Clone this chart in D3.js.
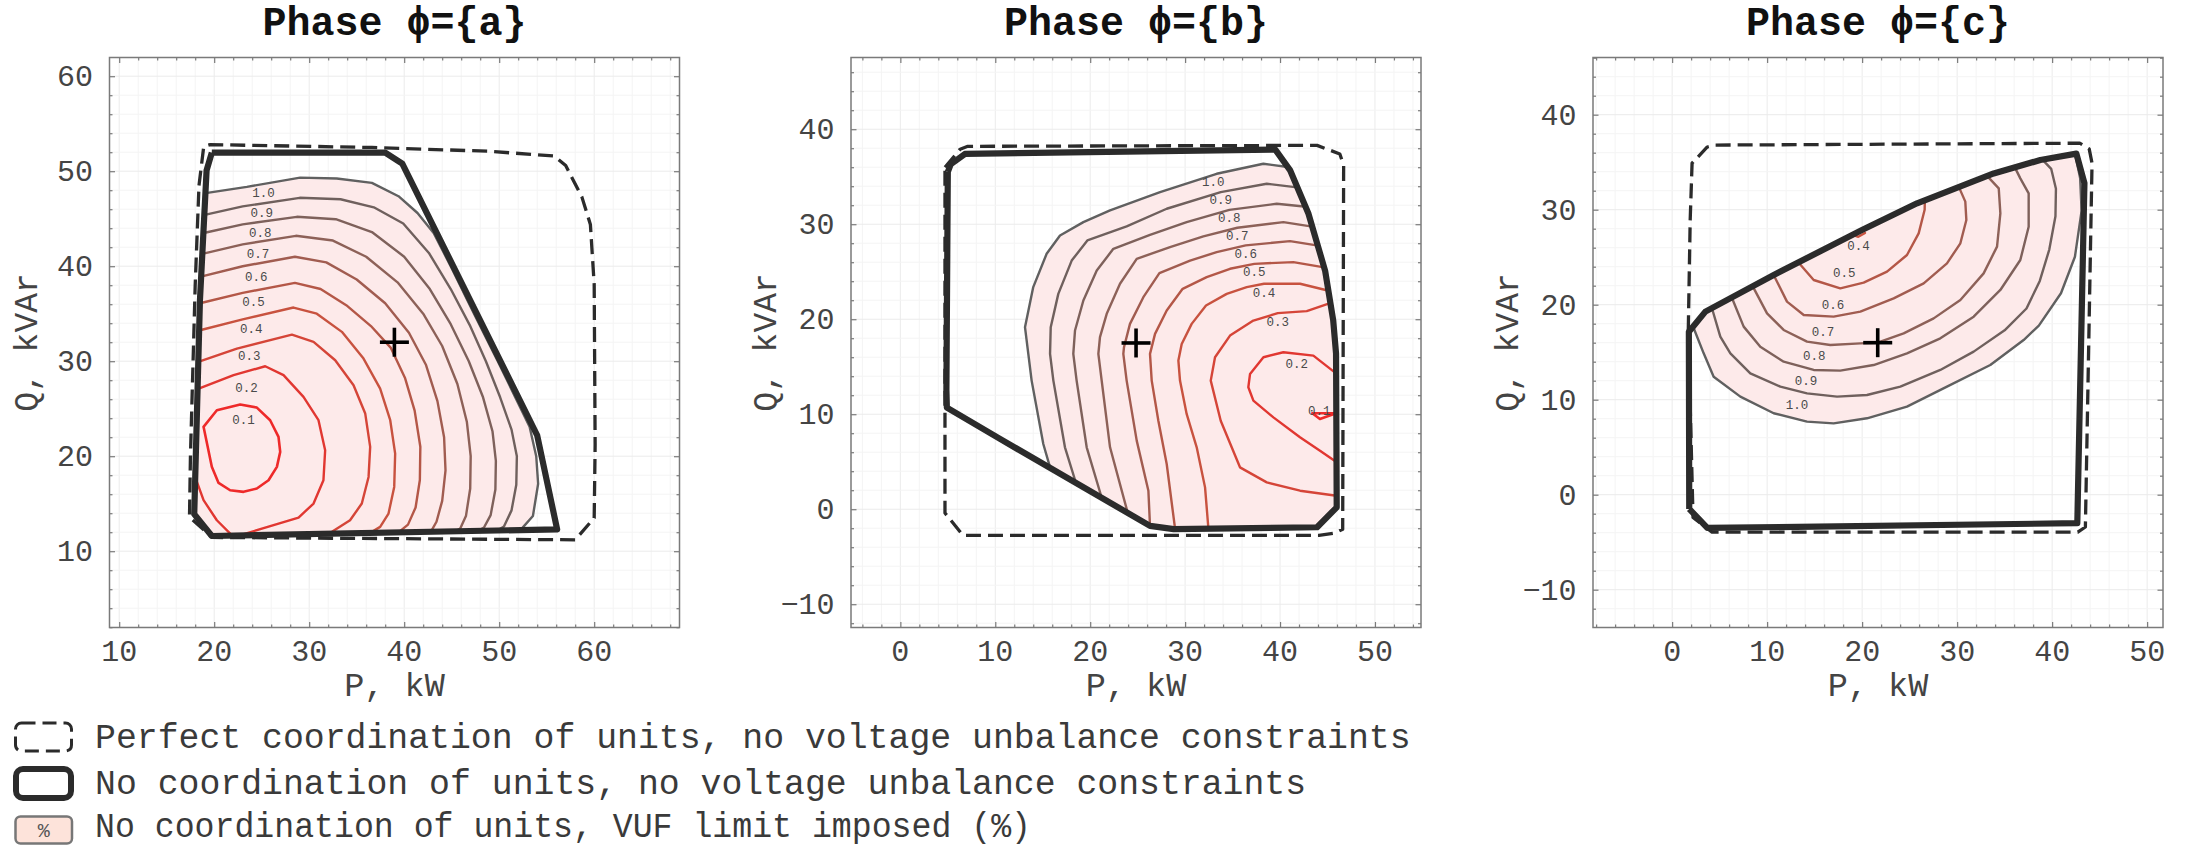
<!DOCTYPE html>
<html>
<head>
<meta charset="utf-8">
<script src="https://cdn.jsdelivr.net/npm/d3@7/dist/d3.min.js"></script>
<style>
html,body{margin:0;padding:0;background:#fff;}
svg{display:block;}
</style>
</head>
<body>
<svg id="chart" width="2190" height="847"></svg>
<script>
// ================= DATA =================
const phaseNames = ["a", "b", "c"];
const xDomains = [[8.98, 68.98], [-5.2, 54.85], [-8.33, 51.67]];
const yDomains = [[1.97, 61.97], [-12.45, 47.55], [-13.98, 46.02]];
const xTickValues = [[10, 20, 30, 40, 50, 60], [0, 10, 20, 30, 40, 50], [0, 10, 20, 30, 40, 50]];
const yTickValues = [[10, 20, 30, 40, 50, 60], [-10, 0, 10, 20, 30, 40], [-10, 0, 10, 20, 30, 40]];
const vufLevels = [0.1, 0.2, 0.3, 0.4, 0.5, 0.6, 0.7, 0.8, 0.9, 1.0];
const operatingPoints = [[38.97, 32.0], [24.83, 17.5], [21.64, 16.0]];
const legendLabels = [
  "Perfect coordination of units, no voltage unbalance constraints",
  "No coordination of units, no voltage unbalance constraints",
  "No coordination of units, VUF limit imposed (%)"
];

// ---- Phase a ----
const perfectA = [[18.4,48.5],[18.9,52.6],[19.6,52.8],[36.6,52.5],[48.9,52.1],[55.8,51.6],[57.0,50.6],[58.7,47.3],[59.6,44.4],[60.0,38.1],[60.1,21.2],[60.0,13.5],[58.0,11.2],[19.8,11.45],[17.4,13.6],[17.5,20.0],[18.0,38.0],[18.4,48.5]];
const noCoordA = [[19.75,51.95],[38.0,51.95],[39.8,50.8],[54.0,22.2],[56.1,12.3],[19.75,11.6],[17.9,13.9],[18.5,36.4],[19.2,50.1],[19.75,51.95]];
const contoursA = [
  {level:0.1, pts:[[18.88,23.09],[20.28,24.84],[22.74,25.44],[24.49,25.12],[25.89,23.79],[26.77,22.04],[26.95,20.46],[26.6,18.88],[25.72,17.47],[24.49,16.6],[23.09,16.25],[21.68,16.42],[20.46,17.19],[19.75,18.88],[18.88,23.09]]},
  {level:0.2, pts:[[18.3,27.1],[22.04,28.53],[25.37,29.47],[27.3,28.53],[29.4,26.25],[30.98,23.79],[31.68,20.63],[31.5,17.47],[30.46,15.02],[28.88,13.54],[22.6,11.65]]},
  {level:0.2, pts:[[18.0,17.8],[18.88,15.37],[20.28,13.26],[21.9,11.65]]},
  {level:0.3, pts:[[18.4,29.95],[22.39,31.33],[28.18,32.8],[30.46,32.04],[32.74,30.1],[34.67,27.47],[35.9,24.49],[36.42,20.98],[36.25,17.82],[35.54,15.02],[34.3,13.26],[32.4,12.04],[31.7,11.83]]},
  {level:0.4, pts:[[18.5,33.26],[23.0,34.4],[28.35,35.65],[30.8,35.0],[33.44,33.09],[35.72,30.28],[37.47,27.12],[38.53,23.79],[39.05,20.28],[38.95,16.77],[38.35,13.96],[37.47,12.56],[36.4,11.92]]},
  {level:0.5, pts:[[18.5,36.1],[23.0,37.2],[28.5,38.25],[31.2,37.6],[33.9,35.9],[36.5,33.7],[38.6,31.4],[40.1,28.2],[41.1,24.8],[41.7,21.0],[41.65,17.5],[41.2,14.6],[40.4,12.8],[39.4,11.98]]},
  {level:0.6, pts:[[18.6,38.9],[23.0,40.0],[28.5,41.0],[31.8,40.4],[35.0,38.6],[38.0,36.1],[40.5,33.0],[42.3,29.6],[43.5,25.8],[44.2,22.0],[44.35,18.5],[44.0,15.3],[43.4,13.1],[42.8,12.04]]},
  {level:0.7, pts:[[18.75,41.3],[23.0,42.3],[28.6,43.2],[32.5,42.7],[36.0,41.0],[39.3,38.3],[42.0,35.0],[44.0,31.6],[45.6,27.6],[46.6,23.6],[47.0,20.0],[46.95,16.6],[46.5,13.7],[45.9,12.4],[45.4,12.09]]},
  {level:0.8, pts:[[18.9,43.5],[23.0,44.4],[28.7,45.2],[32.8,44.95],[36.6,43.6],[40.0,41.0],[42.7,37.6],[44.9,33.9],[46.8,30.0],[48.3,26.2],[49.3,22.6],[49.65,19.5],[49.6,16.5],[49.1,13.8],[48.4,12.5],[47.8,12.14]]},
  {level:0.9, pts:[[19.0,45.4],[23.0,46.3],[29.0,47.2],[33.3,47.05],[36.8,46.2],[39.9,44.5],[42.6,41.4],[44.9,37.6],[46.9,33.8],[48.6,30.0],[50.1,26.2],[51.3,22.8],[51.86,20.0],[51.8,17.0],[51.3,14.3],[50.5,12.6],[49.8,12.18]]},
  {level:1.0, pts:[[19.1,47.7],[23.44,48.35],[29.05,49.33],[32.9,49.23],[36.6,48.77],[39.4,47.37],[41.4,45.6],[43.1,43.5],[45.0,39.8],[47.35,35.0],[49.85,30.0],[51.65,26.3],[53.2,23.1],[53.9,20.0],[54.1,17.1],[53.55,13.7],[52.4,12.4],[51.9,12.22]]}
];
const fillCloseA = [[19.75,11.6],[17.9,13.9],[18.5,36.4]];
const labelsA = [[0.1,23.09,23.7],[0.2,23.4,27.1],[0.3,23.68,30.46],[0.4,23.9,33.26],[0.5,24.14,36.14],[0.6,24.42,38.81],[0.7,24.6,41.23],[0.8,24.84,43.44],[0.9,25.0,45.54],[1.0,25.19,47.65]];

// ---- Phase b ----
const perfectB = [[4.7,36.0],[6.3,37.9],[7.1,38.2],[43.9,38.3],[46.3,37.4],[46.7,36.2],[46.6,-2.1],[45.8,-2.5],[44.1,-2.75],[6.6,-2.75],[4.7,-0.4],[4.7,36.0]];
const noCoordB = [[5.0,35.5],[5.3,36.3],[6.8,37.4],[39.5,37.85],[41.05,35.7],[43.0,31.1],[44.75,25.1],[45.6,19.9],[45.9,16.4],[45.97,0.2],[43.9,-1.9],[28.8,-2.1],[26.3,-1.75],[10.5,7.4],[4.9,10.7],[4.85,12.6],[5.0,35.5]];
const contoursB = [
  {level:0.1, pts:[[43.4,10.1],[44.2,9.5],[45.9,10.1],[43.4,10.1]]},
  {level:0.2, pts:[[45.9,14.3],[43.51,16.17],[40.35,16.52],[38.25,16.0],[36.84,14.24],[36.66,12.84],[37.19,11.43],[39.3,9.67],[42.1,7.57],[44.21,6.16],[45.9,5.0]]},
  {level:0.3, pts:[[45.27,21.69],[42.81,20.85],[39.76,20.64],[37.19,19.86],[34.73,18.28],[33.15,16.0],[32.7,13.54],[33.75,9.32],[35.78,4.41],[38.6,2.83],[42.11,1.95],[45.95,1.42]]},
  {level:0.4, pts:[[45.02,23.02],[42.11,23.73],[38.31,23.73],[36.49,23.38],[34.38,22.67],[32.2,21.44],[30.69,19.51],[29.64,17.4],[29.29,15.65],[29.46,13.54],[30.16,10.03],[31.22,6.52],[32.1,2.3],[32.45,-2.0]]},
  {level:0.5, pts:[[44.49,25.48],[41.4,26.01],[37.29,25.83],[34.73,25.31],[32.27,24.43],[29.74,23.2],[28.06,20.92],[26.83,18.46],[26.3,16.35],[26.48,13.54],[27.18,9.32],[28.06,4.76],[28.94,-2.05]]},
  {level:0.6, pts:[[43.86,27.77],[41.05,28.22],[36.38,27.77],[33.32,27.06],[30.52,26.17],[27.29,24.85],[25.6,22.32],[24.19,19.51],[23.56,17.05],[23.49,16.35],[23.84,13.54],[24.9,7.22],[26.13,1.95],[26.3,-1.74]]},
  {level:0.7, pts:[[43.23,29.77],[40.35,30.22],[35.5,29.63],[31.92,28.72],[28.41,27.59],[24.9,26.36],[23.14,23.73],[21.74,20.57],[21.03,18.11],[20.86,16.35],[21.21,13.54],[22.09,6.52],[23.95,-0.37]]},
  {level:0.8, pts:[[42.53,31.86],[39.65,32.15],[34.66,31.51],[30.16,30.22],[26.3,28.89],[22.44,27.41],[20.69,25.13],[19.28,21.97],[18.4,18.81],[18.22,16.35],[18.57,13.54],[19.63,6.52],[21.21,1.21]]},
  {level:0.9, pts:[[41.58,33.91],[38.6,34.26],[33.75,33.38],[28.06,31.63],[23.84,29.77],[19.7,28.29],[18.05,26.17],[16.64,22.67],[15.84,19.16],[15.77,16.35],[16.12,13.54],[17.34,6.52],[18.5,2.76]]},
  {level:1.0, pts:[[40.8,36.02],[38.24,36.37],[33.32,35.31],[27.36,33.38],[22.09,31.45],[19.28,30.22],[16.82,28.82],[15.41,26.89],[14.0,23.38],[13.13,19.16],[13.48,16.35],[13.83,13.54],[15.06,6.87],[15.77,4.41]]}
];
const fillCloseB = [[26.3,-1.75],[28.8,-2.1],[43.9,-1.9],[45.97,0.2],[45.9,16.4],[45.6,19.9],[44.75,25.1],[43.0,31.1],[41.05,35.7]];
const labelsB = [[0.1,44.14,10.2],[0.2,41.76,15.23],[0.3,39.76,19.58],[0.4,38.31,22.67],[0.5,37.29,24.89],[0.6,36.38,26.81],[0.7,35.5,28.64],[0.8,34.66,30.57],[0.9,33.75,32.43],[1.0,32.97,34.33]];

// ---- Phase c ----
const perfectC = [[1.7,17.3],[1.9,28.9],[2.1,34.9],[3.7,36.6],[4.5,36.8],[42.9,37.0],[43.9,36.4],[44.2,34.9],[43.5,-3.4],[42.7,-3.95],[4.2,-3.95],[2.2,-2.4],[1.7,17.3]];
const noCoordC = [[1.8,-1.5],[3.7,-3.5],[42.65,-3.0],[43.4,32.8],[42.55,35.9],[38.76,35.23],[33.85,33.82],[25.78,30.67],[19.98,27.86],[10.69,23.13],[3.5,19.27],[1.76,17.16],[1.8,-1.5]];
const contoursC = [
  {level:0.4, pts:[[19.0,27.35],[19.6,27.15],[20.3,27.55]]},
  {level:0.5, pts:[[13.3,24.45],[14.9,22.6],[17.7,21.72],[20.16,22.32],[22.62,23.48],[24.72,25.23],[25.95,27.51],[26.58,30.0],[26.6,30.95]]},
  {level:0.6, pts:[[10.7,23.1],[12.09,20.32],[13.85,18.92],[17.0,18.74],[19.81,19.27],[23.32,20.67],[26.48,22.25],[28.93,24.35],[30.34,26.46],[30.97,28.92],[30.86,30.85],[30.2,32.35]]},
  {level:0.7, pts:[[8.5,21.9],[9.99,19.09],[11.74,17.34],[14.2,16.11],[16.65,15.76],[19.81,15.93],[21.63,16.0],[24.37,16.98],[27.53,18.56],[30.34,20.49],[32.79,23.3],[34.2,26.11],[34.55,29.62],[34.38,32.25],[33.2,33.5]]},
  {level:0.8, pts:[[6.3,20.7],[7.53,17.69],[9.28,15.58],[11.74,14.0],[14.9,13.13],[17.7,13.06],[21.21,13.65],[24.72,14.88],[28.23,16.46],[31.74,18.74],[34.55,21.55],[36.65,24.7],[37.53,28.21],[37.53,31.72],[36.65,33.3],[36.1,34.4]]},
  {level:0.9, pts:[[4.2,19.6],[5.07,16.63],[6.13,14.88],[8.23,12.78],[11.39,11.37],[14.2,10.67],[17.36,10.32],[20.51,10.49],[24.02,11.37],[28.23,13.13],[31.74,15.06],[35.0,17.3],[37.3,19.6],[38.7,22.5],[39.7,25.8],[40.35,29.3],[40.4,32.2],[39.9,34.3],[39.0,35.25]]},
  {level:1.0, pts:[[2.2,17.7],[3.32,14.88],[4.37,12.42],[7.18,10.32],[10.69,8.57],[14.2,7.69],[17.0,7.51],[20.51,8.04],[24.72,9.27],[28.93,11.37],[33.49,13.65],[37.0,16.28],[38.6,17.8],[40.93,21.2],[42.4,25.05],[43.1,29.87],[42.95,33.3],[42.45,35.7]]}
];
const fillCloseC = [[42.55,35.9],[38.76,35.23],[33.85,33.82],[25.78,30.67],[19.98,27.86],[10.69,23.13],[3.5,19.27],[1.76,17.16]];
const labelsC = [[0.4,19.63,26.11],[0.5,18.13,23.2],[0.6,16.93,19.9],[0.7,15.88,16.99],[0.8,14.97,14.46],[0.9,14.09,11.9],[1.0,13.14,9.34]];

// ================= LAYOUT / STYLE =================
const MONO = "'Liberation Mono','Courier New','DejaVu Sans Mono',monospace";
const panelLeft = [109.5, 851, 1593];
const panelTop = 57.5, panelSize = 570;
const yLabelX = [26, 765, 1506.5];
const panels = [
  {perfect: perfectA, noCoord: noCoordA, contours: contoursA, fillClose: fillCloseA, labels: labelsA},
  {perfect: perfectB, noCoord: noCoordB, contours: contoursB, fillClose: fillCloseB, labels: labelsB},
  {perfect: perfectC, noCoord: noCoordC, contours: contoursC, fillClose: fillCloseC, labels: labelsC}
];
const levelColor = d3.scaleLinear().domain([0.1, 0.4, 0.7, 1.0]).range(["#ee2a2a", "#c8523f", "#8d6158", "#606060"]);

const svg = d3.select("#chart");
svg.append("rect").attr("width", 2190).attr("height", 847).attr("fill", "#fff");

panels.forEach((p, i) => {
  const L = panelLeft[i], T = panelTop, S = panelSize;
  const x = d3.scaleLinear().domain(xDomains[i]).range([L, L + S]);
  const y = d3.scaleLinear().domain(yDomains[i]).range([T + S, T]);
  const line = d3.line().x(d => x(d[0])).y(d => y(d[1]));
  const g = svg.append("g");

  svg.append("clipPath").attr("id", "clip" + i)
    .append("rect").attr("x", L).attr("y", T).attr("width", S).attr("height", S);

  // grid
  const gx = d3.range(Math.ceil(xDomains[i][0] / 2) * 2, xDomains[i][1], 2);
  const gy = d3.range(Math.ceil(yDomains[i][0] / 2) * 2, yDomains[i][1], 2);
  const grid = g.append("g");
  grid.selectAll(".gx").data(gx).join("line")
    .attr("x1", d => x(d)).attr("x2", d => x(d)).attr("y1", T).attr("y2", T + S)
    .attr("stroke", d => (d % 10 === 0 ? "#ebebeb" : "#f4f4f4")).attr("stroke-width", 1);
  grid.selectAll(".gy").data(gy).join("line")
    .attr("y1", d => y(d)).attr("y2", d => y(d)).attr("x1", L).attr("x2", L + S)
    .attr("stroke", d => (d % 10 === 0 ? "#ebebeb" : "#f4f4f4")).attr("stroke-width", 1);

  const plot = g.append("g").attr("clip-path", "url(#clip" + i + ")");

  // VUF fill region
  const outer = p.contours.filter(c => c.level === 1.0)[0].pts;
  plot.append("path").attr("d", line(outer.concat(p.fillClose)) + "Z")
    .attr("fill", "#fdeaea").attr("stroke", "none");

  // contours
  p.contours.forEach(c => {
    plot.append("path").attr("d", line(c.pts))
      .attr("fill", "none").attr("stroke", levelColor(c.level))
      .attr("stroke-width", c.level === 0.1 ? 2.6 : 2.4)
      .attr("stroke-linejoin", "round").attr("stroke-linecap", "round");
  });

  // contour labels
  plot.selectAll(".lbl").data(p.labels).join("text")
    .attr("x", d => x(d[1])).attr("y", d => y(d[2]))
    .attr("text-anchor", "middle").attr("dominant-baseline", "central")
    .attr("font-family", MONO).attr("font-size", 12.5).attr("fill", "#4a4a4a")
    .text(d => d[0].toFixed(1));

  // perfect coordination (dashed)
  plot.append("path").attr("d", line(p.perfect))
    .attr("fill", "none").attr("stroke", "#2b2b2b").attr("stroke-width", 3.3)
    .attr("stroke-dasharray", "15,7").attr("stroke-linejoin", "round");

  // no coordination (solid)
  plot.append("path").attr("d", line(p.noCoord))
    .attr("fill", "none").attr("stroke", "#2b2b2b").attr("stroke-width", 6.2)
    .attr("stroke-linejoin", "round");

  // operating point crosshair
  const op = operatingPoints[i];
  const cx = x(op[0]), cy = y(op[1]);
  plot.append("line").attr("x1", cx - 14.5).attr("x2", cx + 14.5).attr("y1", cy).attr("y2", cy)
    .attr("stroke", "#000").attr("stroke-width", 3.6);
  plot.append("line").attr("x1", cx).attr("x2", cx).attr("y1", cy - 14.5).attr("y2", cy + 14.5)
    .attr("stroke", "#000").attr("stroke-width", 3.6);

  // ticks (inward, all four sides)
  const minX = d3.range(Math.ceil(xDomains[i][0] / 2) * 2, xDomains[i][1], 2).filter(v => v % 10 !== 0);
  const minY = d3.range(Math.ceil(yDomains[i][0] / 2) * 2, yDomains[i][1], 2).filter(v => v % 10 !== 0);
  const majX = d3.range(Math.ceil(xDomains[i][0] / 10) * 10, xDomains[i][1], 10);
  const majY = d3.range(Math.ceil(yDomains[i][0] / 10) * 10, yDomains[i][1], 10);
  const tickG = g.append("g").attr("class", "ticks");
  const styleAxis = sel => { sel.select(".domain").remove(); sel.selectAll("line").attr("stroke", "#7a7a7a").attr("stroke-width", 1.2); sel.selectAll("text").remove(); };
  tickG.append("g").attr("transform", `translate(0,${T + S})`).call(d3.axisBottom(x).tickValues(minX).tickSize(-3)).call(styleAxis);
  tickG.append("g").attr("transform", `translate(0,${T + S})`).call(d3.axisBottom(x).tickValues(majX).tickSize(-5.5)).call(styleAxis);
  tickG.append("g").attr("transform", `translate(0,${T})`).call(d3.axisTop(x).tickValues(minX).tickSize(-3)).call(styleAxis);
  tickG.append("g").attr("transform", `translate(0,${T})`).call(d3.axisTop(x).tickValues(majX).tickSize(-5.5)).call(styleAxis);
  tickG.append("g").attr("transform", `translate(${L},0)`).call(d3.axisLeft(y).tickValues(minY).tickSize(-3)).call(styleAxis);
  tickG.append("g").attr("transform", `translate(${L},0)`).call(d3.axisLeft(y).tickValues(majY).tickSize(-5.5)).call(styleAxis);
  tickG.append("g").attr("transform", `translate(${L + S},0)`).call(d3.axisRight(y).tickValues(minY).tickSize(-3)).call(styleAxis);
  tickG.append("g").attr("transform", `translate(${L + S},0)`).call(d3.axisRight(y).tickValues(majY).tickSize(-5.5)).call(styleAxis);

  // frame
  g.append("rect").attr("x", L).attr("y", T).attr("width", S).attr("height", S)
    .attr("fill", "none").attr("stroke", "#7a7a7a").attr("stroke-width", 1.5);

  // tick labels
  const fmt = v => (v < 0 ? "\u2212" + Math.abs(v) : String(v));
  g.append("g").selectAll("text").data(xTickValues[i]).join("text")
    .attr("x", d => x(d)).attr("y", 660.5).attr("text-anchor", "middle")
    .attr("font-family", MONO).attr("font-size", 30).attr("fill", "#444").text(fmt);
  g.append("g").selectAll("text").data(yTickValues[i]).join("text")
    .attr("x", L - 16.5).attr("y", d => y(d) + 10).attr("text-anchor", "end")
    .attr("font-family", MONO).attr("font-size", 30).attr("fill", "#444").text(fmt);

  // axis titles
  g.append("text").attr("x", L + S / 2).attr("y", 696).attr("text-anchor", "middle")
    .attr("font-family", MONO).attr("font-size", 33.5).attr("fill", "#444").text("P, kW");
  g.append("text").attr("transform", `translate(${yLabelX[i] + 11},${T + S / 2}) rotate(-90)`)
    .attr("text-anchor", "middle")
    .attr("font-family", MONO).attr("font-size", 33).attr("fill", "#444").text("Q, kVAr");

  // panel title
  g.append("text").attr("x", L + S / 2).attr("y", 35).attr("text-anchor", "middle")
    .attr("font-family", MONO).attr("font-size", 40).attr("font-weight", "bold").attr("fill", "#111")
    .text("Phase \u03D5={" + phaseNames[i] + "}");
});

// ================= LEGEND =================
const lg = svg.append("g");
const rowBaselines = [747.5, 793.5, 836.5];
const rowLengths = [null, null, 936];
lg.append("rect").attr("x", 15.5).attr("y", 723).attr("width", 56).attr("height", 28).attr("rx", 6)
  .attr("fill", "none").attr("stroke", "#2b2b2b").attr("stroke-width", 3).attr("stroke-dasharray", "14,7");
lg.append("rect").attr("x", 16).attr("y", 769).attr("width", 55).attr("height", 29).attr("rx", 7)
  .attr("fill", "#fff").attr("stroke", "#2b2b2b").attr("stroke-width", 6);
lg.append("rect").attr("x", 15.5).attr("y", 816.5).attr("width", 56.5).attr("height", 27).attr("rx", 5)
  .attr("fill", "#fde3da").attr("stroke", "#777").attr("stroke-width", 2.5);
lg.append("text").attr("x", 43.7).attr("y", 837).attr("text-anchor", "middle")
  .attr("font-family", MONO).attr("font-size", 20).attr("fill", "#555").text("%");
lg.selectAll(".lt").data(legendLabels).join("text")
  .attr("x", 95).attr("y", (d, k) => rowBaselines[k])
  .attr("font-family", MONO).attr("font-size", 34.8).attr("fill", "#3a3a3a")
  .each(function (d, k) {
    if (rowLengths[k]) d3.select(this).attr("textLength", rowLengths[k]).attr("lengthAdjust", "spacingAndGlyphs");
  })
  .text(d => d);
</script>
</body>
</html>
